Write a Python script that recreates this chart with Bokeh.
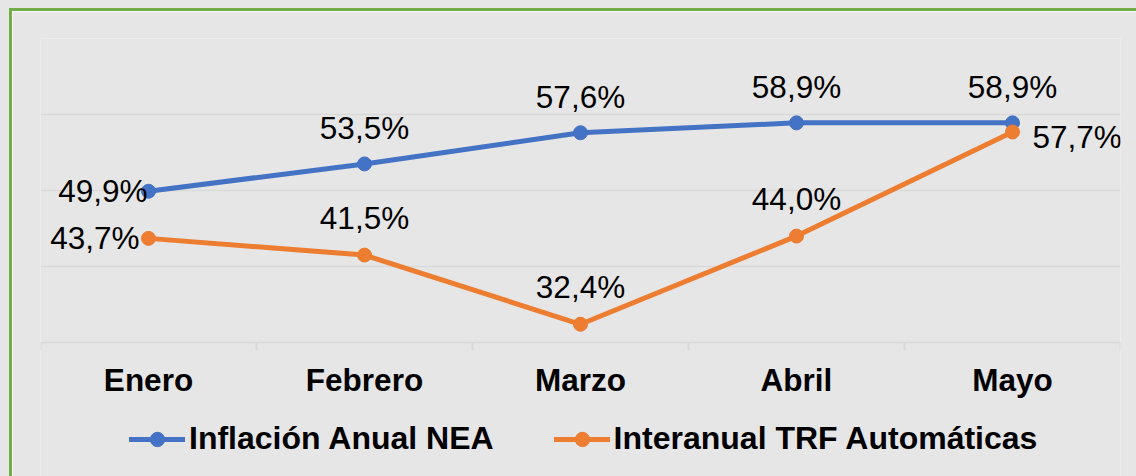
from bokeh.plotting import figure
from bokeh.models import (FactorRange, Range1d, Legend, LegendItem, ColumnDataSource,
                          Grid, FixedTicker)
from bokeh.core.properties import value
from bokeh.embed import file_html
from bokeh.resources import INLINE

# ---- data ----
meses = ["Enero", "Febrero", "Marzo", "Abril", "Mayo"]
inflacion_nea = [49.9, 53.5, 57.6, 58.9, 58.9]
trf_automaticas = [43.7, 41.5, 32.4, 44.0, 57.7]
serie_names = ["Inflación Anual NEA", "Interanual TRF Automáticas"]
grid_values = [30, 40, 50, 60, 70]

# ---- styles ----
BLUE = "#4472C4"
ORANGE = "#ED7D31"
BG = "#e6e6e6"
GRID = "#d9d9d9"
GREEN = "#70AD47"
FONT = "Liberation Sans"

Y_MIN, Y_MAX = grid_values[0], grid_values[-1]
PLOT_PX = 304          # height of the value area
EXTRA_PX = 134         # room under the axis for category labels and legend
PX_PER_UNIT = PLOT_PX / (Y_MAX - Y_MIN)
Y_START = Y_MIN - EXTRA_PX / PX_PER_UNIT
TICK_PX = 8

# label placement per point (style only)
blue_place = [("right", "middle", -1, 0), ("center", "alphabetic", 0, -36),
              ("center", "alphabetic", 0, -36), ("center", "alphabetic", 0, -36),
              ("center", "alphabetic", 0, -36)]
orange_place = [("right", "middle", -9, 0), ("center", "alphabetic", 0, -37),
                ("center", "alphabetic", 0, -37), ("center", "alphabetic", 0, -37),
                ("left", "middle", 20, 5)]

p = figure(x_range=FactorRange(factors=meses), y_range=Range1d(Y_START, Y_MAX),
           frame_width=1080, frame_height=PLOT_PX + EXTRA_PX,
           output_backend="svg", toolbar_location=None,
           x_axis_location=None, y_axis_location=None,
           min_border_left=28, min_border_right=16, min_border_top=27, min_border_bottom=0,
           background_fill_color=BG, border_fill_color=BG, outline_line_color=None)
p.styles = {"border-top": f"3px solid {GREEN}", "border-left": f"3px solid {GREEN}",
            "margin-left": "9px", "margin-top": "8px",
            "box-shadow": f"0 0 0 9px {BG}"}

for g in p.grid:
    g.visible = False
p.add_layout(Grid(dimension=1, ticker=FixedTicker(ticks=grid_values),
                  grid_line_color=GRID, grid_line_width=1.5))

# category boundaries as factors whose centres fall on the edges of each category
bounds = [f"b{i}" for i in range(len(meses) + 1)]
p.extra_x_ranges = {"bounds": FactorRange(factors=bounds, range_padding=-0.5,
                                          range_padding_units="absolute")}
p.segment(x0=bounds, y0=[Y_MIN] * len(bounds), x1=bounds,
          y1=[Y_MIN - TICK_PX / PX_PER_UNIT] * len(bounds),
          x_range_name="bounds", line_color=GRID, line_width=2)

# category labels under the axis
p.text(x=meses, y=[Y_MIN] * len(meses), text=meses, text_align="center",
       text_baseline="middle", y_offset=37, text_font=value(FONT),
       text_font_style="bold", text_font_size="31.5px", text_color="black")

items = []
for vals, color, name in [(inflacion_nea, BLUE, serie_names[0]),
                          (trf_automaticas, ORANGE, serie_names[1])]:
    ln = p.line(meses, vals, line_width=5, color=color, line_cap="round", line_join="round")
    sc = p.scatter(meses, vals, size=14, color=color)
    items.append(LegendItem(label=name, renderers=[ln, sc]))

for vals, place in [(inflacion_nea, blue_place), (trf_automaticas, orange_place)]:
    src = ColumnDataSource(dict(
        x=meses, y=vals,
        t=[f"{v:.1f}%".replace(".", ",") for v in vals],
        align=[q[0] for q in place], base=[q[1] for q in place],
        dx=[q[2] for q in place], dy=[q[3] for q in place]))
    p.text(x="x", y="y", text="t", source=src, text_align="align", text_baseline="base",
           x_offset="dx", y_offset="dy", text_font=value(FONT), text_font_size="31.5px",
           text_color="black")

legend = Legend(items=items, orientation="horizontal", location=(89, 19),
                label_text_font=FONT, label_text_font_style="bold", label_text_font_size="32px",
                label_text_color="black", glyph_width=56, glyph_height=36, label_standoff=4,
                spacing=60, background_fill_alpha=0, border_line_color=None,
                padding=0, margin=0)
p.add_layout(legend, "center")

open("out.html", "w").write(file_html(p, INLINE))
